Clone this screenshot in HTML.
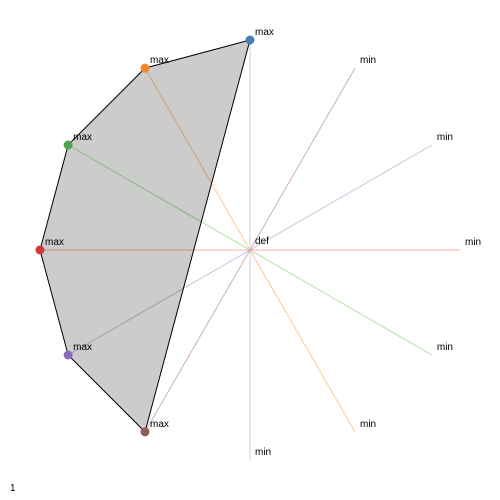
<!DOCTYPE html>
<html><head><meta charset="utf-8"><style>
body{margin:0;background:#fff;}
svg{display:block;font-family:"Liberation Sans",sans-serif;font-size:10px;}
</style></head><body>
<svg id="chart" width="500" height="500"></svg>
<script>
const axes = ["a1","a2","a3","a4","a5","a6"];
const values = [1,1,1,1,1,1];
const axisAngles = [90,120,150,180,210,240];
const NS="http://www.w3.org/2000/svg";
const svg=document.getElementById('chart');
const cx=250,cy=250,R=210;
const lineColors=["#aec7e8","#ffbb78","#98df8a","#ff9896","#c5b0d5","#c49c94"];
const dotColors=["#4a7fb8","#f0892a","#4fa34a","#d0383a","#8e6ab8","#8c5d52"];
function pt(a,v){const r=a*Math.PI/180;return [cx+Math.cos(r)*R*v, cy-Math.sin(r)*R*v];}
function mk(t,attrs){const e=document.createElementNS(NS,t);for(const k in attrs)e.setAttribute(k,attrs[k]);svg.appendChild(e);return e;}
axes.forEach((ax,i)=>{
  const [x1,y1]=pt(axisAngles[i],1),[x2,y2]=pt(axisAngles[i],-1);
  const l=mk('line',{x1,y1,x2,y2,stroke:lineColors[i],'stroke-width':1,'stroke-opacity':0.8});
  
  
  const t=mk('text',{x:x2+5,y:y2-5,fill:'#000'});t.textContent='min';
  
  
});
const pts=values.map((v,i)=>pt(axisAngles[i],v));
const poly=mk('polygon',{points:pts.map(p=>p.join(',')).join(' '),fill:'#000','fill-opacity':0.2,stroke:'#000','stroke-width':1});


values.forEach((v,i)=>{
  const [x,y]=pts[i];
  const c=mk('circle',{cx:x,cy:y,r:4.5,fill:dotColors[i]});
  
  
  const t=mk('text',{x:x+5,y:y-5,fill:'#000'});t.textContent='max';
  
  
});
const d=mk('text',{x:255,y:244,fill:'#000'});d.textContent='def';


const one=mk('text',{x:10,y:491,fill:'#000'});one.textContent='1';


</script>
</body></html>
